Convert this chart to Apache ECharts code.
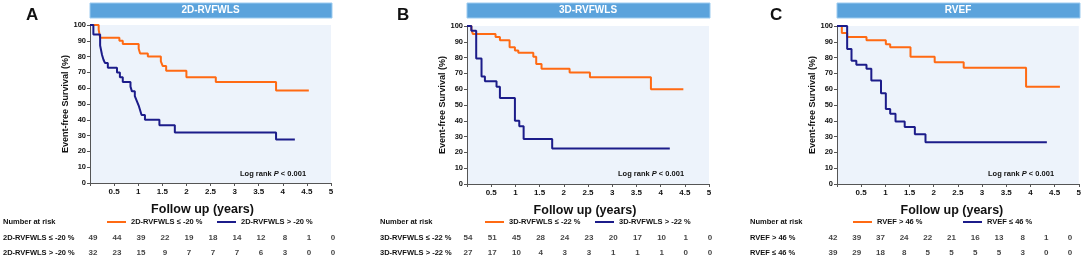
<!DOCTYPE html>
<html>
<head>
<meta charset="utf-8">
<script src="https://cdn.jsdelivr.net/npm/echarts@6/dist/echarts.min.js"></script>
<style>
  html, body { margin: 0; padding: 0; background: #fff; }
  #chart { width: 1084px; height: 262px; }
</style>
</head>
<body>
<div id="chart"></div>
<script>
// x ticks (years) used for the risk table
const xTicks = [0, 0.5, 1, 1.5, 2, 2.5, 3, 3.5, 4, 4.5, 5]

// Kaplan-Meier curves: [time (years), survival %]
const curveA1 = [[0,100],[0.18,97],[0.21,92],[0.61,90],[0.68,88],[1.01,85],[1.04,82],[1.2,80],[1.47,77],[1.51,74],[1.58,71],[2.0,67],[2.61,64],[3.86,58.5],[4.54,58.5]]
const curveA2 = [[0,100],[0.07,94],[0.21,87],[0.25,81],[0.28,78],[0.31,76],[0.37,73],[0.56,70],[0.62,67],[0.68,64],[0.84,61],[0.87,58],[0.93,55],[0.97,52],[1.01,49],[1.04,46],[1.07,43],[1.14,40],[1.44,36.5],[1.76,32],[3.86,27.5],[4.25,27.5]]
const curveB1 = [[0,100],[0.09,98],[0.12,95],[0.59,93],[0.68,91],[0.88,86.5],[0.99,84.5],[1.06,83],[1.37,80.5],[1.43,76],[1.54,73],[2.12,70.5],[2.54,67.5],[3.8,60],[4.47,60]]
const curveB2 = [[0,100],[0.09,97],[0.19,79.5],[0.3,68],[0.37,65],[0.61,61.5],[0.68,54.5],[0.99,40],[1.08,36.5],[1.17,28.5],[1.76,22.5],[4.19,22.5]]
const curveC1 = [[0,100],[0.1,95.5],[0.21,93],[0.61,91],[1.01,88.5],[1.1,86.5],[1.52,80.5],[2.02,77],[2.62,73.5],[3.91,61.5],[4.61,61.5]]
const curveC2 = [[0,100],[0.21,85.5],[0.3,78],[0.4,75.5],[0.61,73],[0.71,65.5],[0.91,57.5],[1.01,47.5],[1.1,44.5],[1.21,39.5],[1.4,36],[1.61,31.5],[1.83,26.5],[4.34,26.5]]

// Number at risk
const riskA1 = [49, 44, 39, 22, 19, 18, 14, 12, 8, 1, 0]
const riskA2 = [32, 23, 15, 9, 7, 7, 7, 6, 3, 0, 0]
const riskB1 = [54, 51, 45, 28, 24, 23, 20, 17, 10, 1, 0]
const riskB2 = [27, 17, 10, 4, 3, 3, 1, 1, 1, 0, 0]
const riskC1 = [42, 39, 37, 24, 22, 21, 16, 13, 8, 1, 0]
const riskC2 = [39, 29, 18, 8, 5, 5, 5, 5, 3, 0, 0]

// labels
const letters = ['A', 'B', 'C']
const titles = ['2D-RVFWLS', '3D-RVFWLS', 'RVEF']
const groupNames = [
  ['2D-RVFWLS ≤ -20 %', '2D-RVFWLS > -20 %'],
  ['3D-RVFWLS ≤ -22 %', '3D-RVFWLS > -22 %'],
  ['RVEF > 46 %', 'RVEF ≤ 46 %']
]
const curves = [[curveA1, curveA2], [curveB1, curveB2], [curveC1, curveC2]]
const risks = [[riskA1, riskA2], [riskB1, riskB2], [riskC1, riskC2]]

// layout (pixels)
const plotBoxes = [
  { left: 90, top: 25, width: 241, height: 158 },
  { left: 467, top: 26, width: 242, height: 158 },
  { left: 837, top: 26, width: 242, height: 158 }
]
const riskBoxes = [
  { left: 93, width: 240, margin: 90 },
  { left: 468, width: 242, margin: 88 },
  { left: 833, width: 237, margin: 83 }
]
const xNameShift = [16, 6, 12]
const letterX = [26, 397, 770]
const riskTitleX = [3, 380, 750]
const legendX = [[107, 217], [485, 595], [853, 963]]
const logRankX = [240, 618, 988]

const ORANGE = '#ff6a13'
const NAVY = '#1c1c8a'
const FONT = 'Liberation Sans, Arial, sans-serif'

const chart = echarts.init(document.getElementById('chart'), null, { renderer: 'canvas' })

const grid = []
const xAxis = []
const yAxis = []
const series = []
const legend = []
const graphic = []

for (let p = 0; p < 3; p++) {
  const box = plotBoxes[p]
  const rb = riskBoxes[p]

  // main plot
  grid.push({
    left: box.left, top: box.top, width: box.width, height: box.height,
    show: true, backgroundColor: '#edf3fb', borderWidth: 0
  })
  xAxis.push({
    gridIndex: p * 2, type: 'value', min: 0, max: 5, interval: 0.5,
    axisLine: { lineStyle: { color: '#555', width: 1 } },
    axisTick: { length: 3, lineStyle: { color: '#555' } },
    splitLine: { show: false },
    axisLabel: {
      fontSize: 8, fontWeight: 'bold', color: '#111', fontFamily: FONT, margin: 5,
      showMaxLabel: true,
      formatter: (v) => (v === 0 ? '' : String(v))
    },
    name: 'Follow up (years)', nameLocation: 'middle', nameGap: 20,
    nameTextStyle: {
      fontSize: 12.5, fontWeight: 'bold', color: '#111', fontFamily: FONT,
      padding: [0, xNameShift[p], 0, 0]
    }
  })
  yAxis.push({
    gridIndex: p * 2, type: 'value', min: 0, max: 100, interval: 10,
    axisLine: { show: true, lineStyle: { color: '#555', width: 1 } },
    axisTick: { show: true, length: 3, lineStyle: { color: '#555' } },
    splitLine: { show: false },
    axisLabel: { fontSize: 7.5, fontWeight: 'bold', color: '#111', fontFamily: FONT, margin: 4 },
    name: 'Event-free Survival (%)', nameLocation: 'middle', nameGap: 19,
    nameTextStyle: { fontSize: 9, fontWeight: 'bold', color: '#111', fontFamily: FONT }
  })

  // risk table grid
  grid.push({ left: rb.left, top: 231, width: rb.width, height: 29 })
  xAxis.push({
    gridIndex: p * 2 + 1, type: 'value', min: 0, max: 5, show: false
  })
  yAxis.push({
    gridIndex: p * 2 + 1, type: 'category', inverse: true,
    data: groupNames[p],
    axisLine: { show: false }, axisTick: { show: false },
    axisLabel: {
      align: 'left', margin: rb.margin,
      fontSize: 7.5, fontWeight: 'bold', color: '#111', fontFamily: FONT
    }
  })

  // curves
  for (let g = 0; g < 2; g++) {
    series.push({
      name: groupNames[p][g],
      type: 'line', step: 'end',
      xAxisIndex: p * 2, yAxisIndex: p * 2,
      data: curves[p][g],
      showSymbol: false, symbol: 'none',
      lineStyle: { width: 2, color: g === 0 ? ORANGE : NAVY },
      itemStyle: { color: g === 0 ? ORANGE : NAVY },
      silent: true
    })
    legend.push({
      data: [groupNames[p][g]],
      left: legendX[p][g], top: 218,
      icon: 'rect', itemWidth: 19, itemHeight: 2, padding: 0,
      selectedMode: false,
      textStyle: { fontSize: 7.5, fontWeight: 'bold', color: '#111', fontFamily: FONT }
    })
  }

  // risk numbers
  const riskData = []
  risks[p].forEach((row, r) => {
    row.forEach((n, i) => riskData.push([xTicks[i], r, n]))
  })
  series.push({
    type: 'scatter',
    xAxisIndex: p * 2 + 1, yAxisIndex: p * 2 + 1,
    data: riskData,
    symbolSize: 1,
    itemStyle: { color: 'rgba(0,0,0,0)' },
    label: {
      show: true, position: 'inside',
      formatter: (d) => String(d.value[2]),
      fontSize: 8, fontWeight: 'bold', color: '#111', fontFamily: FONT
    },
    silent: true
  })

  // panel letter
  graphic.push({
    type: 'text', left: letterX[p], top: 7,
    style: { text: letters[p], font: 'bold 17px ' + FONT, fill: '#111' }
  })
  // title bar
  graphic.push({
    type: 'rect',
    shape: { x: box.left, y: 3, width: box.width + 1, height: 15 },
    style: { fill: '#5ba3dc', stroke: '#9ccbf0', lineWidth: 1 }
  })
  graphic.push({
    type: 'text',
    x: box.left + box.width / 2, y: 10.5,
    style: {
      text: titles[p], font: 'bold 10px ' + FONT, fill: '#fff',
      align: 'center', verticalAlign: 'middle'
    }
  })
  // log rank
  graphic.push({
    type: 'text', x: logRankX[p], y: 173.5,
    style: {
      text: '{a|Log rank }{b|P}{a| < 0.001}',
      verticalAlign: 'middle',
      rich: {
        a: { font: 'bold 7.5px ' + FONT, fill: '#111' },
        b: { font: 'italic bold 7.5px ' + FONT, fill: '#111' }
      }
    }
  })
  // number at risk
  graphic.push({
    type: 'text', x: riskTitleX[p], y: 222,
    style: {
      text: 'Number at risk', font: 'bold 7.5px ' + FONT, fill: '#111',
      verticalAlign: 'middle'
    }
  })
}

chart.setOption({
  animation: false,
  grid,
  xAxis,
  yAxis,
  legend,
  series,
  graphic
})
</script>
</body>
</html>
